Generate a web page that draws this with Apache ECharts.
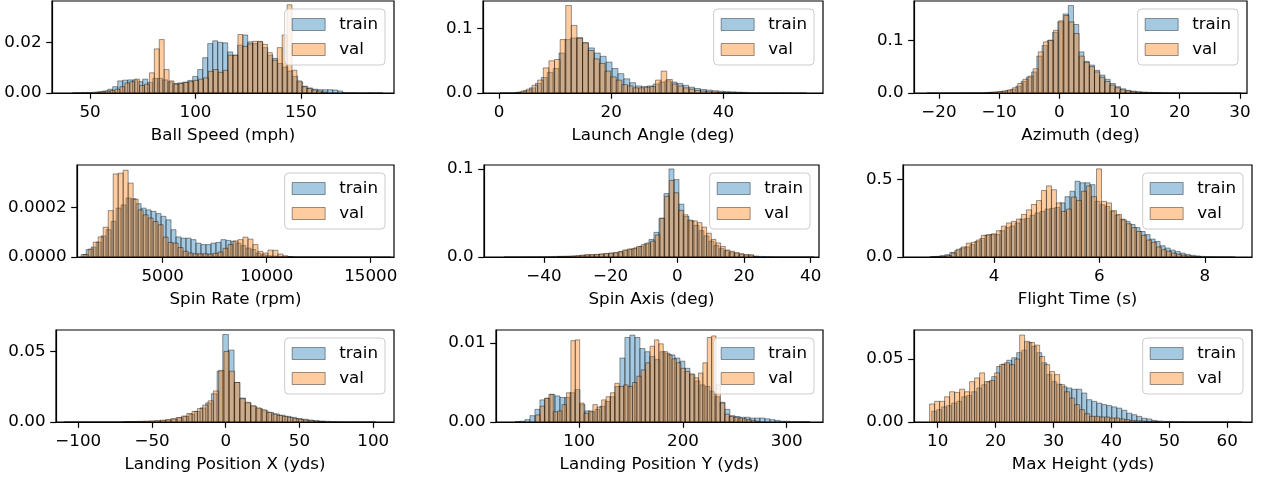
<!DOCTYPE html>
<html>
<head>
<meta charset="utf-8">
<script src="https://cdn.jsdelivr.net/npm/echarts@6/dist/echarts.min.js"></script>
<style>
  html, body { margin: 0; padding: 0; background: #fff; }
  #chart { width: 1265px; height: 480px; }
</style>
</head>
<body>
<div id="chart"></div>
<script>
// histogram densities, one value per bin; bins given by a start edge and a width

// Ball Speed (mph)
var ballSpeedTrainStart = 41.8, ballSpeedTrainWidth = 2.37;
var ballSpeedTrain = [0.0001,0.0001,0.0002,0.0002,0.0003,0.0005,0.0008,0.0015,0.0025,0.0048,
  0.0051,0.0052,0.0052,0.0045,0.0055,0.0042,0.0058,0.0058,0.0052,0.0044,
  0.0038,0.004,0.0043,0.005,0.0066,0.0093,0.014,0.0196,0.0207,0.0201,
  0.0199,0.0163,0.015,0.019,0.023,0.0203,0.0196,0.0203,0.018,0.015,
  0.0137,0.0117,0.0103,0.0087,0.0066,0.0044,0.0027,0.002,0.0015,0.0013,
  0.0013,0.0013,0.0012,0.0008,0.0002,0.0001,0.0001,0,0,0.0001,0,0.0001];
var ballSpeedValStart = 52.54, ballSpeedValWidth = 2.33;
var ballSpeedVal = [0.0003,0.0005,0.0008,0.001,0.0015,0.0025,0.004,0.0045,0.0055,0.003,
  0.0035,0.008,0.0175,0.0212,0.0093,0.0048,0.0035,0.0038,0.0042,0.0045,
  0.005,0.0055,0.006,0.0086,0.0093,0.0082,0.009,0.015,0.015,0.0232,
  0.0185,0.0195,0.0205,0.0205,0.0193,0.016,0.013,0.018,0.023,0.035,
  0.009,0.0048,0.0025,0.0018,0.0012,0.0008,0.0004];

// Launch Angle (deg)
var launchTrainStart = 0.2, launchTrainWidth = 1.05;
var launchTrain = [0.0003,0.0003,0.0005,0.0015,0.004,0.008,0.015,0.024,0.032,0.038,
  0.062,0.083,0.0855,0.086,0.078,0.07,0.062,0.057,0.048,0.038,
  0.03,0.022,0.016,0.011,0.01,0.011,0.014,0.017,0.019,0.017,
  0.015,0.012,0.009,0.007,0.0055,0.0045,0.0035,0.0028,0.0022,0.0018,
  0.0013,0.001,0.0007,0.0005,0.0004,0.0003,0.0003,0.0002,0.0002,0.0001,
  0.0001,0.0001];
var launchValStart = 2.9, launchValWidth = 1.0;
var launchVal = [0.001,0.003,0.006,0.012,0.02,0.039,0.05,0.052,0.083,0.136,
  0.105,0.085,0.078,0.066,0.053,0.046,0.034,0.025,0.02,0.013,
  0.011,0.008,0.008,0.009,0.01,0.02,0.034,0.021,0.014,0.011,
  0.008,0.006,0.004,0.003,0.002,0.0015,0.001,0.0008,0.0005,0.0003,
  0.0002];

// Azimuth (deg)
var azimuthTrainStart = -22, azimuthTrainWidth = 0.87;
var azimuthTrain = [0.0003,0.0002,0.0002,0.0002,0.0003,0.0003,0.0004,0.0005,0.0005,0.0006,
  0.0008,0.001,0.0015,0.002,0.003,0.0045,0.007,0.013,0.022,0.03,
  0.04,0.07,0.09,0.1,0.115,0.135,0.15,0.166,0.13,0.078,
  0.06,0.053,0.043,0.034,0.026,0.018,0.012,0.008,0.005,0.0035,
  0.0025,0.0018,0.0013,0.001,0.0008,0.0007,0.0006,0.0005,0.0004,0.0004,
  0.0003,0.0003,0.0002,0.0002,0.0002,0.0001,0.0001,0.0001,0.0001,0.0001];
var azimuthValStart = -12, azimuthValWidth = 0.85;
var azimuthVal = [0.001,0.0015,0.0025,0.004,0.006,0.01,0.018,0.026,0.032,0.046,
  0.078,0.097,0.1,0.119,0.137,0.147,0.135,0.113,0.07,0.058,
  0.05,0.04,0.03,0.022,0.015,0.01,0.006,0.004,0.0025,0.0015,
  0.001,0.0006,0.0004,0.0002];

// Spin Rate (rpm)
var spinRateTrainStart = 1080, spinRateTrainWidth = 240;
var spinRateTrain = [1e-5,3e-5,4e-5,6e-5,8.5e-5,1.1e-4,1.44e-4,1.97e-4,2.1e-4,2.38e-4,
  2.35e-4,2.15e-4,1.97e-4,1.9e-4,1.84e-4,1.75e-4,1.64e-4,1.5e-4,1.1e-4,8.1e-5,
  7.6e-5,7.6e-5,7e-5,5.6e-5,5e-5,5e-5,5.6e-5,5.9e-5,7e-5,6.7e-5,
  6.3e-5,5.6e-5,4.6e-5,3.6e-5,3e-5,1.6e-5,9e-6,5e-6,4e-6,3e-6,
  2e-6,1.5e-6,1e-6,1e-6,8e-7,8e-7,6e-7,6e-7,5e-7,5e-7,
  4e-7,4e-7,3e-7,3e-7,3e-7,2e-7,2e-7,2e-7,2e-7,1e-7,1e-7,1e-7];
var spinRateValStart = 1180, spinRateValWidth = 240;
var spinRateVal = [1e-5,3.2e-5,6e-5,8.1e-5,1.2e-4,1.87e-4,3.35e-4,3.38e-4,3.5e-4,2.98e-4,
  2.33e-4,1.9e-4,1.7e-4,1.57e-4,1.43e-4,1.3e-4,8e-5,5.9e-5,5.6e-5,3.8e-5,
  2.3e-5,1.6e-5,1.3e-5,1.3e-5,1.3e-5,1.2e-5,1.5e-5,2e-5,3.5e-5,5e-5,
  6.5e-5,7e-5,8e-5,7.2e-5,5e-5,2.3e-5,1.6e-5,2.8e-5,2.7e-5,1.2e-5,
  5e-6,2e-6];

// Spin Axis (deg)
var spinAxisTrainStart = -52, spinAxisTrainWidth = 1.5;
var spinAxisTrain = [0.0001,0.0001,0.0001,0.0001,0.0002,0.0002,0.0002,0.0003,0.0003,0.0005,
  0.0007,0.0008,0.0009,0.001,0.0012,0.0015,0.002,0.0022,0.0026,0.003,
  0.0036,0.0042,0.0048,0.006,0.0075,0.009,0.0105,0.012,0.015,0.02,
  0.028,0.044,0.072,0.1,0.088,0.06,0.046,0.041,0.036,0.03,
  0.024,0.018,0.013,0.0095,0.0072,0.0055,0.0042,0.003,0.0022,0.0016,
  0.001,0.0007,0.0005,0.0003,0.0002,0.0001,0.0001,0.0001,0.0001,0.0001,0.0001,0.0001];
var spinAxisValStart = -36, spinAxisValWidth = 1.4;
var spinAxisVal = [0.0003,0.0005,0.0007,0.001,0.0015,0.0022,0.0028,0.0028,0.003,0.0035,
  0.004,0.0045,0.005,0.006,0.008,0.009,0.0095,0.012,0.014,0.016,
  0.018,0.025,0.044,0.069,0.087,0.073,0.053,0.048,0.042,0.041,
  0.039,0.034,0.027,0.02,0.016,0.012,0.008,0.0065,0.005,0.0038,
  0.0027,0.0027,0.0005];

// Flight Time (s)
var flightTrainStart = 2.782, flightTrainWidth = 0.095;
var flightTrain = [0.002,0.004,0.009,0.015,0.03,0.043,0.058,0.065,0.08,0.1,
  0.12,0.14,0.145,0.145,0.17,0.19,0.2,0.22,0.245,0.25,
  0.27,0.285,0.295,0.31,0.315,0.32,0.35,0.39,0.425,0.49,
  0.48,0.48,0.468,0.36,0.338,0.327,0.295,0.27,0.245,0.23,
  0.21,0.19,0.165,0.145,0.116,0.1,0.073,0.058,0.045,0.035,
  0.025,0.017,0.011,0.007,0.004,0.003,0.002,0.0015,0.001,0.0008,
  0.0005];
var flightValStart = 2.81, flightValWidth = 0.095;
var flightVal = [0.001,0.002,0.004,0.01,0.026,0.05,0.065,0.09,0.095,0.11,
  0.14,0.145,0.15,0.17,0.2,0.22,0.23,0.245,0.275,0.305,
  0.34,0.365,0.43,0.46,0.435,0.35,0.295,0.31,0.388,0.366,
  0.425,0.46,0.39,0.57,0.36,0.35,0.3,0.275,0.24,0.215,
  0.19,0.165,0.14,0.11,0.095,0.065,0.047,0.037,0.025,0.018,
  0.012,0.007,0.004,0.002];

// Landing Position X (yds)
var landXTrainStart = -109.55, landXTrainWidth = 3.84;
var landXTrain = [0.0001,0.0001,0.0001,0.0001,0.0001,0.0001,0.0001,0.0001,0.0001,0.0001,
  0.0001,0.0002,0.0002,0.0002,0.0003,0.0004,0.0006,0.0009,0.0014,0.002,
  0.003,0.004,0.0055,0.0075,0.01,0.0135,0.02,0.036,0.062,0.051,
  0.028,0.017,0.0135,0.011,0.0095,0.008,0.0068,0.0057,0.0048,0.004,
  0.0033,0.0025,0.0019,0.0014,0.001,0.0007,0.0005,0.0003,0.0002,0.0001,
  0.0001,0.0001,0.0001,0.0001,0.0001];
var landXValStart = -69.6, landXValWidth = 3.6;
var landXVal = [0.0002,0.0003,0.0004,0.0005,0.0006,0.0008,0.001,0.0013,0.0017,0.0024,
  0.0032,0.0042,0.006,0.0075,0.0095,0.012,0.015,0.022,0.0366,0.05,
  0.036,0.028,0.0165,0.014,0.0116,0.01,0.0087,0.0068,0.0057,0.0047,
  0.004,0.0033,0.0024,0.0019,0.0014,0.0009,0.0005,0.0003];

// Landing Position Y (yds)
var landYTrainStart = 37.96, landYTrainWidth = 4.82;
var landYTrain = [0.00005,0.0001,0.0003,0.0008,0.0016,0.0028,0.003,0.0035,0.0033,0.0031,
  0.0031,0.0037,0.0041,0.0022,0.0014,0.0013,0.0016,0.002,0.0026,0.0032,
  0.0045,0.0081,0.0107,0.011,0.0107,0.0093,0.0089,0.0083,0.0079,0.0089,
  0.0087,0.0085,0.0081,0.0077,0.0068,0.006,0.0052,0.0047,0.0045,0.0039,
  0.0032,0.0025,0.0016,0.0008,0.0007,0.0006,0.0006,0.0005,0.0005,0.0005,
  0.0004,0.0003,0.0002,0.0001,0.0001,0.00005,0.00005,0.00005,0.00005];
var landYValStart = 57.96, landYValWidth = 4.242;
var landYVal = [0.0009,0.002,0.003,0.0035,0.0013,0.0014,0.0022,0.0037,0.0103,0.0104,
  0.0024,0.0011,0.0014,0.0022,0.0019,0.0028,0.0032,0.0037,0.0049,0.0045,
  0.0047,0.0045,0.005,0.0058,0.0066,0.0075,0.0096,0.0104,0.0099,0.0089,
  0.0085,0.008,0.0075,0.0068,0.0064,0.0061,0.0056,0.0062,0.0075,0.0107,
  0.0109,0.0047,0.0024,0.001,0.0007,0.0006,0.0005,0.0004,0.0003,0.0002,0.0001];

// Max Height (yds)
var maxHTrainStart = 8.96, maxHTrainWidth = 0.864;
var maxHTrain = [0.0085,0.0098,0.012,0.013,0.015,0.0164,0.02,0.021,0.024,0.027,
  0.0296,0.032,0.036,0.044,0.046,0.049,0.051,0.055,0.057,0.063,
  0.06,0.055,0.047,0.0376,0.032,0.03,0.028,0.027,0.026,0.026,
  0.023,0.0177,0.0164,0.015,0.0138,0.013,0.012,0.011,0.0093,0.007,
  0.0058,0.0045,0.003,0.0024,0.0013,0.0008,0.0005,0.0004,0.0003,0.0002,
  0.0002,0.0001,0.0001,0.0001,0.0001,0.0001,0.0001,0.0001,0.0001,0.0001,
  0.0001,0.0001];
var maxHValStart = 8.6, maxHValWidth = 0.864;
var maxHVal = [0.0143,0.0164,0.0164,0.02,0.024,0.0235,0.026,0.024,0.032,0.035,
  0.039,0.032,0.033,0.039,0.0455,0.047,0.0455,0.05,0.069,0.064,
  0.063,0.061,0.052,0.0455,0.04,0.0376,0.0296,0.024,0.019,0.0138,
  0.0098,0.0066,0.0045,0.0045,0.004,0.004,0.0032,0.0032,0.0024,0.0019,
  0.0013,0.001,0.0008,0.0005,0.0004,0.0002];

// axis labels and tick values
var axisNames = ['Ball Speed (mph)', 'Launch Angle (deg)', 'Azimuth (deg)',
  'Spin Rate (rpm)', 'Spin Axis (deg)', 'Flight Time (s)',
  'Landing Position X (yds)', 'Landing Position Y (yds)', 'Max Height (yds)'];
var xTicks = [[50, 100, 150], [0, 20, 40], [-20, -10, 0, 10, 20, 30],
  [5000, 10000, 15000], [-40, -20, 0, 20, 40], [4, 6, 8],
  [-100, -50, 0, 50, 100], [100, 200, 300], [10, 20, 30, 40, 50, 60]];
var yTicks = [[0, 0.02], [0, 0.1], [0, 0.1], [0, 0.0002], [0, 0.1], [0, 0.5],
  [0, 0.05], [0, 0.01], [0, 0.05]];
var yDigits = [2, 1, 1, 4, 1, 1, 2, 2, 2];

var trainSets = [
  [ballSpeedTrainStart, ballSpeedTrainWidth, ballSpeedTrain],
  [launchTrainStart, launchTrainWidth, launchTrain],
  [azimuthTrainStart, azimuthTrainWidth, azimuthTrain],
  [spinRateTrainStart, spinRateTrainWidth, spinRateTrain],
  [spinAxisTrainStart, spinAxisTrainWidth, spinAxisTrain],
  [flightTrainStart, flightTrainWidth, flightTrain],
  [landXTrainStart, landXTrainWidth, landXTrain],
  [landYTrainStart, landYTrainWidth, landYTrain],
  [maxHTrainStart, maxHTrainWidth, maxHTrain]
];
var valSets = [
  [ballSpeedValStart, ballSpeedValWidth, ballSpeedVal],
  [launchValStart, launchValWidth, launchVal],
  [azimuthValStart, azimuthValWidth, azimuthVal],
  [spinRateValStart, spinRateValWidth, spinRateVal],
  [spinAxisValStart, spinAxisValWidth, spinAxisVal],
  [flightValStart, flightValWidth, flightVal],
  [landXValStart, landXValWidth, landXVal],
  [landYValStart, landYValWidth, landYVal],
  [maxHValStart, maxHValWidth, maxHVal]
];

// view ranges of every panel (matplotlib auto margins)
var xRanges = [[31.99, 194.08], [-2.85, 57.75], [-24.14, 31.18],
  [880, 16120], [-57.96, 42.49], [2.273, 8.896],
  [-115.1, 114.1], [19.7, 335.0], [5.91, 64.28]];
var yMaxes = [0.0365, 0.1429, 0.1746, 0.000371, 0.1045, 0.595, 0.0652, 0.01165, 0.073];

// panel boxes in px: left, top, width, height
var boxes = [[52, 1, 342, 92], [483, 1, 340, 92], [914, 1, 333, 92],
  [77, 165, 317, 92], [484, 165, 335, 92], [903, 165, 349, 92],
  [56, 330, 338, 92], [496, 330, 327, 92], [914, 330, 338, 92]];

var W = 1265;
var FONT = 'DejaVu Sans';
var FS = 16.7;
var trainFill = 'rgba(31,119,180,0.4)';
var valFill = 'rgba(255,127,14,0.4)';
var edge = 'rgba(0,0,0,0.4)';

function minus(v) {
  return String(v).replace('-', '\u2212');
}

function histSeries(name, spec, idx, fill) {
  var start = spec[0], width = spec[1];
  var data = spec[2].map(function (h, i) {
    return [start + i * width, start + (i + 1) * width, h];
  });
  return {
    name: name,
    type: 'custom',
    xAxisIndex: idx,
    yAxisIndex: idx,
    data: data,
    encode: { x: [0, 1], y: 2 },
    clip: true,
    silent: true,
    itemStyle: { color: fill },
    renderItem: function (params, api) {
      var p0 = api.coord([api.value(0), api.value(2)]);
      var p1 = api.coord([api.value(1), 0]);
      return {
        type: 'rect',
        shape: { x: p0[0], y: p0[1], width: p1[0] - p0[0], height: p1[1] - p0[1] },
        style: { fill: fill, stroke: edge, lineWidth: 1 }
      };
    }
  };
}

var grids = [], xAxes = [], yAxes = [], legends = [], series = [];

boxes.forEach(function (b, i) {
  grids.push({
    left: b[0], top: b[1], width: b[2], height: b[3],
    show: true, borderColor: '#000', borderWidth: 1.2, backgroundColor: 'transparent'
  });
  xAxes.push({
    type: 'value', gridIndex: i, z: 5,
    min: xRanges[i][0], max: xRanges[i][1],
    name: axisNames[i], nameLocation: 'middle', nameGap: 34,
    nameTextStyle: { fontFamily: FONT, fontSize: FS, color: '#000' },
    axisLine: { show: true, onZero: false, lineStyle: { color: '#000', width: 1.2 } },
    axisTick: { show: true, length: 5.8, lineStyle: { color: '#000', width: 1.2 }, customValues: xTicks[i] },
    axisLabel: { customValues: xTicks[i], formatter: minus, fontFamily: FONT, fontSize: FS, color: '#000', margin: 11 },
    splitLine: { show: false }
  });
  yAxes.push({
    type: 'value', gridIndex: i, z: 5,
    min: 0, max: yMaxes[i],
    axisLine: { show: true, onZero: false, lineStyle: { color: '#000', width: 1.2 } },
    axisTick: { show: true, length: 5.8, lineStyle: { color: '#000', width: 1.2 }, customValues: yTicks[i] },
    axisLabel: {
      customValues: yTicks[i],
      formatter: function (v) { return v.toFixed(yDigits[i]); },
      fontFamily: FONT, fontSize: FS, color: '#000', margin: 10.5
    },
    splitLine: { show: false }
  });
  legends.push({
    orient: 'vertical',
    right: W - (b[0] + b[2] - 9),
    top: b[1] + 8,
    itemWidth: 33, itemHeight: 12, itemGap: 8,
    padding: [7, 7, 7, 7],
    backgroundColor: 'rgba(255,255,255,0.8)',
    borderColor: '#cccccc', borderWidth: 1, borderRadius: 4,
    selectedMode: false,
    textStyle: { fontFamily: FONT, fontSize: FS, color: '#000', lineHeight: 17, padding: [0, 0, 0, 9] },
    data: [
      { name: 'train', icon: 'rect', itemStyle: { color: trainFill, borderColor: edge, borderWidth: 1 } },
      { name: 'val', icon: 'rect', itemStyle: { color: valFill, borderColor: edge, borderWidth: 1 } }
    ]
  });
  series.push(histSeries('train', trainSets[i], i, trainFill));
  series.push(histSeries('val', valSets[i], i, valFill));
});

var chart = echarts.init(document.getElementById('chart'));
chart.setOption({
  animation: false,
  backgroundColor: '#fff',
  grid: grids,
  xAxis: xAxes,
  yAxis: yAxes,
  legend: legends,
  series: series
});
</script>
</body>
</html>
